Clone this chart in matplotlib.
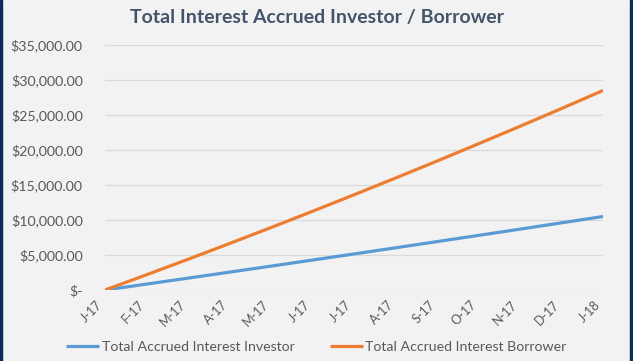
import matplotlib.pyplot as plt
from matplotlib.ticker import FuncFormatter
from matplotlib.patches import Rectangle

months = ['J-17', 'F-17', 'M-17', 'A-17', 'M-17', 'J-17', 'J-17',
          'A-17', 'S-17', 'O-17', 'N-17', 'D-17', 'J-18']
investor = [0, 844, 1695, 2550, 3411, 4278, 5150, 6028,
            6912, 7800, 8695, 9595, 10500]
borrower = [0, 2176, 4388, 6637, 8921, 11241, 13600, 15991,
            18420, 20885, 23386, 25923, 28500]
y_ticks = [0, 5000, 10000, 15000, 20000, 25000, 30000, 35000]

plt.rcParams['font.family'] = ['Lato', 'DejaVu Sans']

W, H = 633, 361
fig = plt.figure(figsize=(W / 100, H / 100), dpi=100)
fig.patch.set_facecolor('#f2f2f2')

# dark frame on the sides
fig.add_artist(Rectangle((0, 0), 2 / W, 1, transform=fig.transFigure,
                         color='#0b2a5e', zorder=5))
fig.add_artist(Rectangle((1 - 3 / W, 0), 3 / W, 1, transform=fig.transFigure,
                         color='#0b2a5e', zorder=5))

ax = fig.add_axes([105 / W, (H - 290) / H, 498 / W, 245 / H])
ax.set_facecolor('#f2f2f2')

x = list(range(len(months)))
ax.plot(x, investor, color='#5b9bd5', lw=2.3, solid_capstyle='butt',
        label='Total Accrued Interest Investor', zorder=3)
ax.plot(x, borrower, color='#ed7d31', lw=2.3, solid_capstyle='butt',
        label='Total Accrued Interest Borrower', zorder=3)

ax.set_xlim(0, 12)
ax.set_ylim(0, 35000)
ax.set_yticks(y_ticks)


def money(v, pos):
    if v == 0:
        return '$-'
    return '${:,.2f}'.format(v)


ax.yaxis.set_major_formatter(FuncFormatter(money))
ax.set_xticks(x)
ax.set_xticklabels(months, rotation=45, ha='right', va='top')

ax.grid(axis='y', color='#d9d9d9', lw=0.9)
ax.set_axisbelow(True)
for s in ax.spines.values():
    s.set_visible(False)
ax.tick_params(axis='both', length=0, colors='#595959')
ax.tick_params(axis='y', labelsize=10.2, pad=16)
ax.tick_params(axis='x', labelsize=9, pad=6)

fig.text(0.5, 1 - 18 / H, 'Total Interest Accrued Investor / Borrower',
         ha='center', va='center', fontsize=14, fontweight='bold',
         color='#44546a')

fig.legend(loc='center', bbox_to_anchor=(0.5, 1 - 347 / H), ncol=2,
           frameon=False, fontsize=10.2, handlelength=2.3, columnspacing=2.5,
           handletextpad=0.2, labelcolor='#595959')

fig.savefig('out.png', dpi=100, facecolor=fig.get_facecolor())
